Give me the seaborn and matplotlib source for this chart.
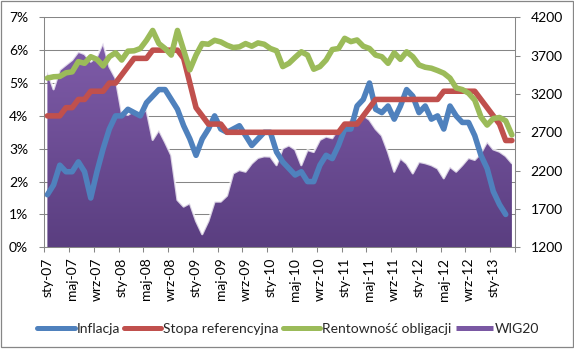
import numpy as np
import pandas as pd
import matplotlib
matplotlib.use("Agg")
import matplotlib.pyplot as plt
import seaborn as sns
from matplotlib.lines import Line2D
from matplotlib.patches import Rectangle
from matplotlib.colors import LinearSegmentedColormap

sns.set_style("white")
plt.rcParams["font.family"] = ["Lato", "DejaVu Sans"]

# ---------------- data ----------------
tick_labels = ["sty-07", "maj-07", "wrz-07", "sty-08", "maj-08", "wrz-08",
               "sty-09", "maj-09", "wrz-09", "sty-10", "maj-10", "wrz-10",
               "sty-11", "maj-11", "wrz-11", "sty-12", "maj-12", "wrz-12",
               "sty-13"]

inflacja = [1.6, 1.9, 2.5, 2.3, 2.3, 2.6, 2.3, 1.5, 2.3, 3.0, 3.6, 4.0,
            4.0, 4.2, 4.1, 4.0, 4.4, 4.6, 4.8, 4.8, 4.5, 4.2, 3.7, 3.3,
            2.8, 3.3, 3.6, 4.0, 3.6, 3.5, 3.6, 3.7, 3.4, 3.1, 3.3, 3.5,
            3.5, 2.9, 2.6, 2.4, 2.2, 2.3, 2.0, 2.0, 2.5, 2.8, 2.7, 3.1,
            3.6, 3.6, 4.3, 4.5, 5.0, 4.2, 4.1, 4.3, 3.9, 4.3, 4.8, 4.6,
            4.1, 4.3, 3.9, 4.0, 3.6, 4.3, 4.0, 3.8, 3.8, 3.4, 2.8, 2.4,
            1.7, 1.3, 1.0, np.nan]

stopa = [4.0, 4.0, 4.0, 4.25, 4.25, 4.5, 4.5, 4.75, 4.75, 4.75, 5.0, 5.0,
         5.25, 5.5, 5.75, 5.75, 5.75, 6.0, 6.0, 6.0, 6.0, 6.0, 5.75, 5.0,
         4.25, 4.0, 3.75, 3.75, 3.75, 3.5, 3.5, 3.5, 3.5, 3.5, 3.5, 3.5,
         3.5, 3.5, 3.5, 3.5, 3.5, 3.5, 3.5, 3.5, 3.5, 3.5, 3.5, 3.5,
         3.75, 3.75, 3.75, 4.0, 4.25, 4.5, 4.5, 4.5, 4.5, 4.5, 4.5, 4.5,
         4.5, 4.5, 4.5, 4.5, 4.75, 4.75, 4.75, 4.75, 4.75, 4.75, 4.5, 4.25,
         4.0, 3.75, 3.25, 3.25]

rentownosc = [5.15, 5.19, 5.2, 5.31, 5.34, 5.65, 5.6, 5.8, 5.72, 5.52, 5.8, 5.92,
              5.7, 5.97, 5.98, 6.05, 6.3, 6.6, 6.2, 6.05, 5.85, 6.6, 6.0, 5.4,
              5.85, 6.2, 6.18, 6.3, 6.25, 6.15, 6.08, 6.1, 6.2, 6.12, 6.22, 6.18,
              6.05, 5.98, 5.5, 5.6, 5.78, 5.95, 5.85, 5.42, 5.5, 5.7, 6.02, 6.05,
              6.36, 6.26, 6.31, 6.12, 6.05, 5.85, 5.8, 5.6, 5.92, 5.72, 5.95, 5.8,
              5.55, 5.48, 5.45, 5.38, 5.3, 5.15, 4.85, 4.8, 4.69, 4.48, 3.97, 3.72,
              3.92, 3.95, 3.85, 3.42]

wig20 = [3493, 3261, 3514, 3579, 3643, 3750, 3720, 3621, 3686, 3870, 3557, 3407,
         2957, 2927, 2979, 2936, 2991, 2601, 2730, 2571, 2400, 1817, 1731, 1774,
         1543, 1371, 1543, 1796, 1796, 1873, 2164, 2207, 2186, 2293, 2366, 2387,
         2383, 2271, 2490, 2529, 2477, 2271, 2469, 2443, 2601, 2644, 2623, 2751,
         2751, 2884, 2871, 2923, 2863, 2743, 2657, 2443, 2186, 2361, 2293, 2164,
         2314, 2297, 2271, 2229, 2100, 2250, 2186, 2271, 2366, 2340, 2426, 2576,
         2477, 2447, 2391, 2297]

series_names = ["Inflacja", "Stopa referencyjna", "Rentowność obligacji"]
colors = {"Inflacja": "#4F81BD", "Stopa referencyjna": "#C0504D",
          "Rentowność obligacji": "#9BBB59"}
purple_top, purple_bot = "#7F5CA9", "#5A3E80"
grid_c = "#868686"

n = len(wig20)
idx = np.arange(n)
df = pd.DataFrame({"m": idx, "Inflacja": inflacja,
                   "Stopa referencyjna": stopa,
                   "Rentowność obligacji": rentownosc})
long = df.melt(id_vars="m", var_name="seria", value_name="v")

# ---------------- figure ----------------
W, H = 574, 353
fig = plt.figure(figsize=(W / 100, H / 100), dpi=100)
left, right, top, bottom = 44.3, 515.0, 17.3, 247.3
ax = fig.add_axes([left / W, 1 - bottom / H, (right - left) / W, (bottom - top) / H])
ax2 = ax.twinx()
ax3 = ax.twinx()
ax.set_zorder(1); ax2.set_zorder(2); ax3.set_zorder(3)
ax2.patch.set_visible(False)
ax3.patch.set_visible(False)

fs = 10

# primary axis: grid + percent ticks
ax.set_xlim(-0.5, n - 0.5)
ax.set_ylim(0, 7)
ax.set_yticks(range(0, 8))
ax.set_yticklabels([f"{v}%" for v in range(0, 8)])
ax.yaxis.grid(True, color=grid_c, lw=0.75)
ax.xaxis.grid(False)
ax.set_axisbelow(True)
ax.set_xticks(np.arange(-0.5, n, 4))
ax.set_xticks(np.arange(0, n, 4)[:len(tick_labels)], minor=True)
ax.set_xticklabels(tick_labels, minor=True)
ax.tick_params(axis="x", which="major", length=3.6, width=0.75, color=grid_c,
               direction="out", labelbottom=False, bottom=True)
ax.tick_params(axis="x", which="minor", length=0, pad=7.5, labelrotation=90,
               labelsize=fs, labelcolor="black")
ax.tick_params(axis="y", length=3.6, width=0.75, color=grid_c, direction="out",
               pad=8, labelsize=fs, labelcolor="black", left=True)
for s in ["top", "right"]:
    ax.spines[s].set_visible(False)
for s in ["left", "bottom"]:
    ax.spines[s].set_color(grid_c)
    ax.spines[s].set_linewidth(0.75)

# secondary axis: WIG20 area with gradient
ax2.set_ylim(1200, 4200)
poly = ax2.fill_between(idx, 1200, wig20, color="none", lw=0)
cmap = LinearSegmentedColormap.from_list("p", [purple_bot, purple_top])
im = ax2.imshow(np.linspace(0, 1, 256).reshape(-1, 1), cmap=cmap, origin="lower",
                extent=[idx[0], idx[-1], 1200, max(wig20)], aspect="auto",
                interpolation="bilinear", zorder=1)
im.set_clip_path(poly.get_paths()[0], transform=ax2.transData)
ax2.plot(idx, wig20, color="white", lw=1.6, alpha=0.75, zorder=2)
ax2.set_xlim(-0.5, n - 0.5)
ax2.set_ylim(1200, 4200)
ax2.set_yticks(range(1200, 4201, 500))
ax2.tick_params(axis="y", length=3.6, width=0.75, color=grid_c, direction="out",
                pad=7.7, labelsize=fs, labelcolor="black", right=True)
for s in ["top", "left", "bottom"]:
    ax2.spines[s].set_visible(False)
ax2.spines["right"].set_color(grid_c)
ax2.spines["right"].set_linewidth(0.75)

# lines on top
sns.lineplot(data=long, x="m", y="v", hue="seria", hue_order=series_names,
             palette=colors, lw=4, ax=ax3, legend=False, sort=False)
for ln in ax3.lines:
    ln.set_solid_capstyle("round")
    ln.set_solid_joinstyle("round")
ax3.set_xlim(-0.5, n - 0.5)
ax3.set_ylim(0, 7)
ax3.set_yticks([])
ax3.set_ylabel("")
ax3.set_xlabel("")
for s in ax3.spines.values():
    s.set_visible(False)
ax.set_xlabel(""); ax.set_ylabel(""); ax2.set_ylabel("")

# legend
handles = [Line2D([], [], color=colors[s], lw=3.6, solid_capstyle="round") for s in series_names]
handles.append(Line2D([], [], color="#7A58A3", lw=3.6, solid_capstyle="butt"))
labels = series_names + ["WIG20"]
fig.legend(handles, labels, loc="center", bbox_to_anchor=(0.502, 1 - 329 / H),
           ncol=4, frameon=False, handlelength=2.7, handletextpad=0.12,
           columnspacing=0.3, fontsize=fs, borderaxespad=0)

# outer chart border
fig.add_artist(Rectangle((1 / W, 1 - 347 / H), 572 / W, 346 / H,
                         transform=fig.transFigure, fill=False, ec=grid_c, lw=0.9))

fig.savefig("out.png", dpi=100)
